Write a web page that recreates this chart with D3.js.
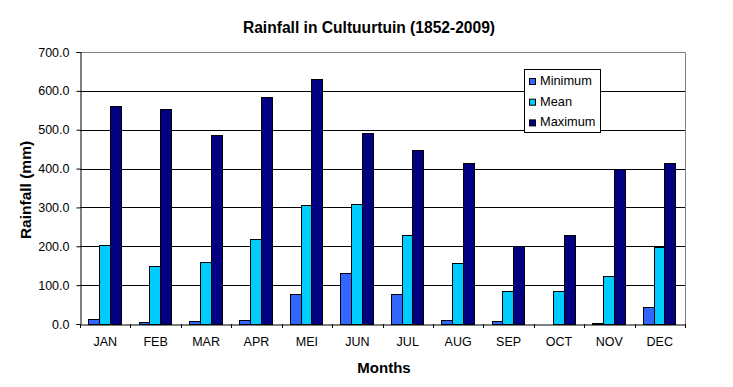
<!DOCTYPE html>
<html>
<head>
<meta charset="utf-8">
<script src="https://cdn.jsdelivr.net/npm/d3@7"></script>
<style>
  body { margin: 0; background: #fff; }
  svg { font-family: Arial, "Liberation Sans", sans-serif; }
</style>
</head>
<body>
<svg id="chart" width="733" height="387"></svg>
<script>
// data
const months = ["JAN","FEB","MAR","APR","MEI","JUN","JUL","AUG","SEP","OCT","NOV","DEC"];
const seriesNames = ["Minimum","Mean","Maximum"];
const minimum = [14, 6, 9, 11, 78, 132, 76, 11, 9, 0, 3, 45];
const mean = [203, 150, 160, 220, 307, 310, 230, 157, 85, 85, 123, 197];
const maximum = [561, 553, 486, 584, 630, 491, 447, 414, 202, 230, 400, 414];
const yTicks = [0, 100, 200, 300, 400, 500, 600, 700];
const colors = ["#3366ff", "#00ccff", "#000080"];

const svg = d3.select("#chart");
const plotLeft = 80, plotRight = 685, plotTop = 52, plotBottom = 324;

const x = d3.scaleBand().domain(months).range([plotLeft, plotRight]).padding(0);
const gap = x.bandwidth() * 0.357;
const xs = d3.scaleBand().domain(seriesNames).range([gap / 2 - 0.8, x.bandwidth() - gap / 2 - 0.8]);
const y = d3.scaleLinear().domain([0, 700]).range([plotBottom, plotTop]);

// gridlines
svg.append("g")
  .selectAll("line")
  .data(yTicks.filter(d => d > 0 && d < 700))
  .enter()
  .append("line")
  .attr("x1", plotLeft).attr("x2", plotRight)
  .attr("y1", d => Math.round(y(d)) + 0.5).attr("y2", d => Math.round(y(d)) + 0.5)
  .attr("stroke", "#000").attr("stroke-width", 1);

// plot border top/right
svg.append("path")
  .attr("d", `M${plotLeft},${plotTop + 0.5}H${plotRight + 0.5}V${plotBottom}`)
  .attr("fill", "none").attr("stroke", "#808080");

// bars
const bars = [];
months.forEach((m, i) => {
  [minimum[i], mean[i], maximum[i]].forEach((v, k) => {
    bars.push({ month: m, name: seriesNames[k], value: v, k: k });
  });
});

svg.append("g")
  .selectAll("rect")
  .data(bars)
  .enter()
  .append("rect")
  .attr("x", d => Math.round(x(d.month) + xs(d.name)) + 0.5)
  .attr("width", Math.round(xs.bandwidth()))
  .attr("y", d => Math.round(y(d.value)) + 0.5)
  .attr("height", d => Math.max(0, Math.round(y(0)) - Math.round(y(d.value))))
  .attr("fill", d => colors[d.k])
  .attr("stroke", "#000").attr("stroke-width", 1);

// y axis
const yAxis = svg.append("g")
  .attr("transform", `translate(${plotLeft + 0.5},0)`)
  .call(d3.axisLeft(y).tickValues(yTicks).tickFormat(d3.format(".1f")).tickSizeOuter(0).tickSize(4));
yAxis.select(".domain").attr("stroke", "#000");
yAxis.selectAll(".tick line").attr("stroke", "#000");
yAxis.selectAll(".tick text")
  .attr("font-size", 12.5).attr("fill", "#000")
  .attr("font-family", "Arial, 'Liberation Sans', sans-serif")
  .attr("x", -11);

// x axis
const xAxis = svg.append("g")
  .attr("transform", `translate(0,${plotBottom + 0.5})`)
  .call(d3.axisBottom(x).tickSize(0).tickSizeOuter(0));
xAxis.select(".domain").attr("stroke", "#000");
xAxis.selectAll(".tick text")
  .attr("font-size", 12.5).attr("fill", "#000")
  .attr("font-family", "Arial, 'Liberation Sans', sans-serif")
  .attr("y", 13);
svg.append("g")
  .selectAll("line")
  .data(months.concat(["_end"]))
  .enter()
  .append("line")
  .attr("x1", (d, i) => Math.round(plotLeft + i * x.bandwidth()) + 0.5)
  .attr("x2", (d, i) => Math.round(plotLeft + i * x.bandwidth()) + 0.5)
  .attr("y1", plotBottom).attr("y2", plotBottom + 4)
  .attr("stroke", "#000");

// titles
svg.append("text")
  .attr("x", 369).attr("y", 33)
  .attr("text-anchor", "middle")
  .attr("font-size", 15.6).attr("font-weight", "bold")
  .text("Rainfall in Cultuurtuin (1852-2009)");

svg.append("text")
  .attr("x", 384).attr("y", 373)
  .attr("text-anchor", "middle")
  .attr("font-size", 15).attr("font-weight", "bold")
  .text("Months");

svg.append("text")
  .attr("transform", "translate(31,190) rotate(-90)")
  .attr("text-anchor", "middle")
  .attr("font-size", 15.5).attr("font-weight", "bold")
  .text("Rainfall (mm)");

// legend
const legend = svg.append("g").attr("transform", "translate(524.5,69.5)");
legend.append("rect")
  .attr("width", 76).attr("height", 63)
  .attr("fill", "#fff").attr("stroke", "#000");
const items = legend.selectAll("g")
  .data(seriesNames)
  .enter()
  .append("g")
  .attr("transform", (d, i) => `translate(0,${11 + i * 20.7})`);
items.append("rect")
  .attr("x", 5).attr("y", -2)
  .attr("width", 6).attr("height", 6)
  .attr("fill", (d, i) => colors[i])
  .attr("stroke", "#000");
items.append("text")
  .attr("x", 15.5).attr("y", 4.5)
  .attr("font-size", 12.8)
  .text(d => d);
</script>
</body>
</html>
